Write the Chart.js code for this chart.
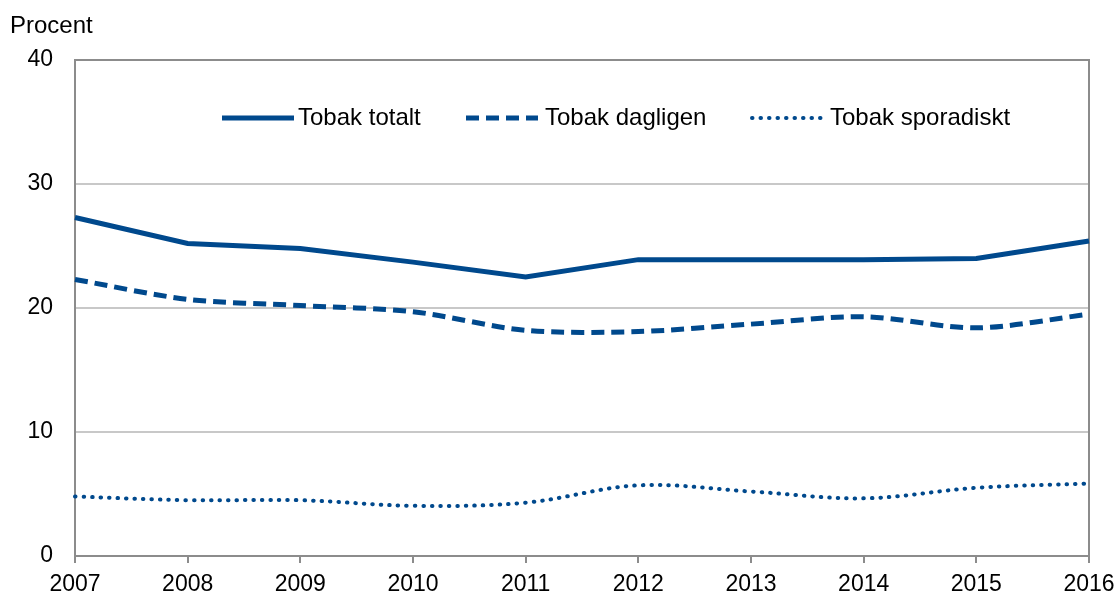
<!DOCTYPE html>
<html>
<head>
<meta charset="utf-8">
<script src="https://cdn.jsdelivr.net/npm/chart.js@4/dist/chart.umd.min.js"></script>
<style>
  body { margin: 0; background: #fff; }
  #wrap { width: 1118px; height: 595px; }
</style>
</head>
<body>
<div id="wrap"><canvas id="tobakChart" width="1118" height="595"></canvas></div>
<script>
const years = ["2007", "2008", "2009", "2010", "2011", "2012", "2013", "2014", "2015", "2016"];
const tobakTotalt = [27.3, 25.2, 24.8, 23.7, 22.5, 23.9, 23.9, 23.9, 24.0, 25.4];
const tobakDagligen = [22.3, 20.7, 20.2, 19.7, 18.2, 18.1, 18.7, 19.3, 18.4, 19.5];
const tobakSporadiskt = [4.8, 4.5, 4.5, 4.05, 4.3, 5.7, 5.2, 4.65, 5.5, 5.85];
const yTicks = [0, 10, 20, 30, 40];

const blue = "#00498d";
const font = "Liberation Sans, Arial, sans-serif";

// box around plot + "Procent" label + legend inside the plot
const extras = {
  id: "extras",
  beforeDatasetsDraw(chart) {
    const { ctx, chartArea: a } = chart;
    ctx.save();
    ctx.strokeStyle = "#8c8c8c";
    ctx.lineWidth = 2;
    ctx.strokeRect(a.left, a.top, a.right - a.left, a.bottom - a.top);
    ctx.restore();
  },
  afterDraw(chart) {
    const { ctx } = chart;
    ctx.save();
    ctx.fillStyle = "#000";
    ctx.font = "24px " + font;
    ctx.textBaseline = "middle";
    ctx.fillText("Procent", 10, 26);

    const items = [
      { x: 222, textX: 298 },
      { x: 466, textX: 545 },
      { x: 752, textX: 830 }
    ];
    chart.data.datasets.forEach((ds, i) => {
      const it = items[i];
      const y = 118;
      ctx.strokeStyle = ds.borderColor;
      ctx.lineWidth = ds.borderWidth;
      ctx.lineCap = ds.borderCapStyle || "butt";
      ctx.setLineDash(ds.borderDash || []);
      ctx.beginPath();
      ctx.moveTo(it.x, y);
      ctx.lineTo(it.x + 72, y);
      ctx.stroke();
      ctx.setLineDash([]);
      ctx.fillText(ds.label, it.textX, y);
    });
    ctx.restore();
  }
};

new Chart(document.getElementById("tobakChart"), {
  type: "line",
  data: {
    labels: years,
    datasets: [
      {
        label: "Tobak totalt",
        data: tobakTotalt,
        borderColor: blue,
        borderWidth: 5,
        tension: 0,
        pointRadius: 0
      },
      {
        label: "Tobak dagligen",
        data: tobakDagligen,
        borderColor: blue,
        borderWidth: 5,
        borderDash: [13, 7],
        tension: 0.3,
        pointRadius: 0
      },
      {
        label: "Tobak sporadiskt",
        data: tobakSporadiskt,
        borderColor: blue,
        borderWidth: 4,
        borderDash: [0.5, 8],
        borderCapStyle: "round",
        tension: 0.35,
        pointRadius: 0
      }
    ]
  },
  options: {
    responsive: false,
    animation: false,
    layout: { padding: { left: 0, right: 29, top: 60, bottom: 0 } },
    plugins: {
      legend: { display: false },
      tooltip: { enabled: false }
    },
    scales: {
      x: {
        offset: false,
        grid: {
          display: true,
          drawOnChartArea: false,
          drawTicks: true,
          tickLength: 7,
          color: "#8c8c8c",
          lineWidth: 2
        },
        border: { color: "#8c8c8c", width: 2 },
        ticks: {
          color: "#000",
          font: { family: font, size: 23 },
          padding: 8,
          maxRotation: 0,
          autoSkip: false
        },
        afterFit(scale) {
          scale.height = 39;
          scale.paddingLeft = 0;
          scale.paddingRight = 0;
        }
      },
      y: {
        min: 0,
        max: 40,
        afterBuildTicks(scale) { scale.ticks = yTicks.map(v => ({ value: v })); },
        grid: {
          color: "#c8c8c8",
          lineWidth: 2,
          drawTicks: false
        },
        border: { color: "#8c8c8c", width: 2 },
        ticks: {
          color: "#000",
          font: { family: font, size: 23 },
          padding: 22
        },
        afterFit(scale) { scale.width = 75; }
      }
    }
  },
  plugins: [extras]
});
</script>
</body>
</html>
